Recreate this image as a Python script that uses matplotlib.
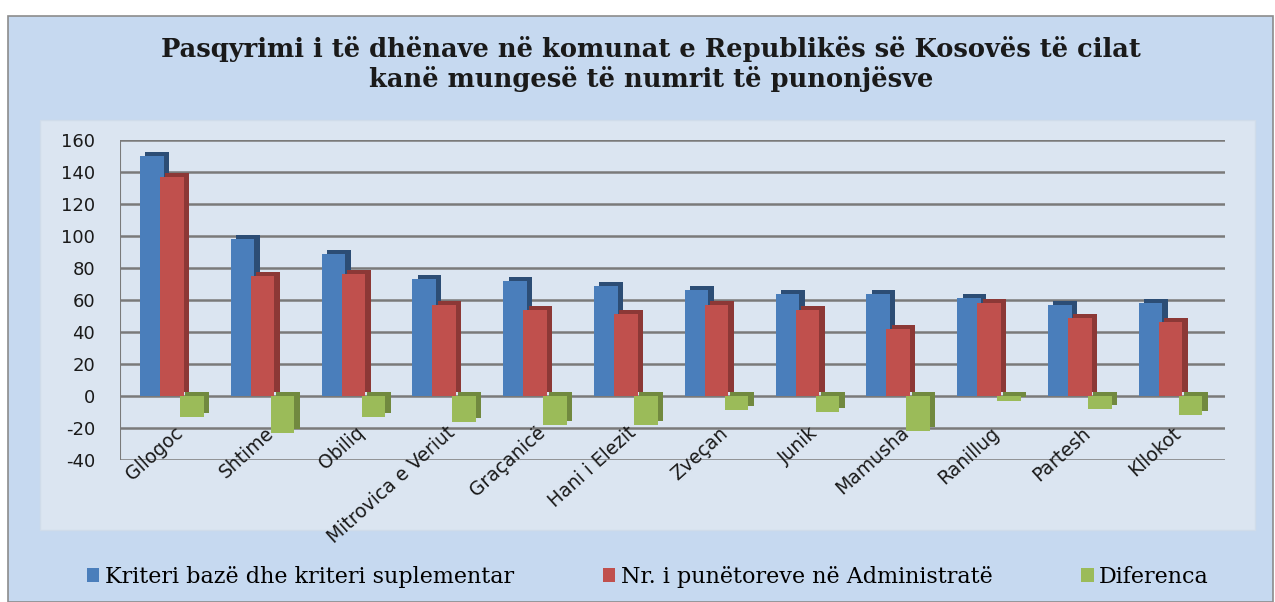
import matplotlib.pyplot as plt
from matplotlib.patches import Rectangle
import numpy as np

plt.rcParams["axes.unicode_minus"] = False

komunat = ["Gllogoc", "Shtime", "Obiliq", "Mitrovica e Veriut", "Graçanicë",
           "Hani i Elezit", "Zveçan", "Junik", "Mamusha", "Ranillug",
           "Partesh", "Kllokot"]
kriteri = [150, 98, 89, 73, 72, 69, 66, 64, 64, 61, 57, 58]
punetoret = [137, 75, 76, 57, 54, 51, 57, 54, 42, 58, 49, 46]
diferenca = [-13, -23, -13, -16, -18, -18, -9, -10, -22, -3, -8, -12]

seri_emrat = ["Kriteri bazë dhe kriteri suplementar",
              "Nr. i punëtoreve në Administratë", "Diferenca"]
ngjyrat = ["#4a7ebb", "#c0504d", "#9bbb59"]
anet = ["#2c4d75", "#8c3836", "#71893f"]

fig = plt.figure(figsize=(12.75, 6.02), dpi=100)
fig.patch.set_facecolor("white")
fig.patches.append(Rectangle((8 / 1275, 0.0), 1265 / 1275, 1 - 16 / 602,
                             transform=fig.transFigure, facecolor="#c6d9f0",
                             edgecolor="#8c8c8c", lw=1.2, zorder=-10))
fig.patches.append(Rectangle((40 / 1275, 1 - 530 / 602), 1215 / 1275, 410 / 602,
                             transform=fig.transFigure, facecolor="#dbe5f1",
                             edgecolor="#d0dcea", lw=1, zorder=-9))

ax = fig.add_axes([120 / 1275, 1 - 460 / 602, 1105 / 1275, 320 / 602])
ax.set_facecolor("none")

x = np.arange(len(komunat))
w = 0.26
offs = [-0.22, 0.0, 0.22]
dx, dy = 0.06, 2.5
for vals, off, c, s, lab in zip([kriteri, punetoret, diferenca], offs, ngjyrat, anet, seri_emrat):
    ax.bar(x + off + dx, vals, w, bottom=dy, color=s, zorder=3)
    ax.bar(x + off, vals, w, color=c, zorder=3, label=lab)

ax.set_ylim(-40, 160)
ax.set_xlim(-0.57, 11.6)
ax.set_yticks(range(-40, 161, 20))
ax.yaxis.grid(True, color="#7a7a7a", lw=1.8, zorder=0)
ax.tick_params(axis="y", length=0, labelsize=13, pad=18, colors="#1a1a1a")
ax.set_xticks([])
for sp in ax.spines.values():
    sp.set_visible(False)
ax.axvline(-0.57, color="#7a7a7a", lw=1.5, zorder=1)

for i, name in enumerate(komunat):
    ax.text(i + 0.02, -17, name, rotation=42, ha="right", va="top",
            rotation_mode="anchor", fontsize=13.5, color="#1a1a1a", clip_on=False)

fig.text(651 / 1275, 1 - 64 / 602, "Pasqyrimi i të dhënave në komunat e Republikës së Kosovës të cilat\n"
         "kanë mungesë të numrit të punonjësve", ha="center", va="center",
         fontsize=18.5, fontweight="bold", family="DejaVu Serif", linespacing=1.15,
         color="#1a1a1a")

h, l = ax.get_legend_handles_labels()
fig.legend(h, l, loc="center", bbox_to_anchor=(648 / 1275, 1 - 577 / 602), ncol=3,
           frameon=False, prop={"family": "DejaVu Serif", "size": 16},
           handlelength=0.55, handleheight=0.55, handletextpad=0.25, columnspacing=4)

fig.savefig("out.png", dpi=100, facecolor=fig.get_facecolor())
